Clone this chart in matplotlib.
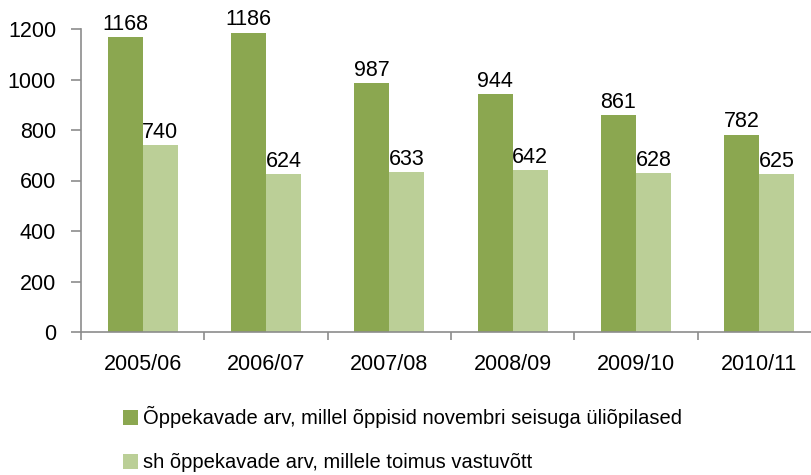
import matplotlib.pyplot as plt
import numpy as np

plt.rcParams['font.family'] = ['Liberation Sans', 'DejaVu Sans']

categories = ['2005/06', '2006/07', '2007/08', '2008/09', '2009/10', '2010/11']
series1 = [1168, 1186, 987, 944, 861, 782]
series2 = [740, 624, 633, 642, 628, 625]
labels = ['Õppekavade arv, millel õppisid novembri seisuga üliõpilased',
          'sh õppekavade arv, millele toimus vastuvõtt']
c1 = '#8BA750'
c2 = '#BBCF97'
axis_c = '#8C8C8C'

fig = plt.figure(figsize=(8.11, 4.75), dpi=100)
ax = fig.add_axes([81/811, 143/475, 740/811, 303/475])

x = np.arange(len(categories))
w = 0.285
b1 = ax.bar(x - w/2, series1, w, color=c1, label=labels[0])
b2 = ax.bar(x + w/2, series2, w, color=c2, label=labels[1])
for bars, vals in ((b1, series1), (b2, series2)):
    for r, v in zip(bars, vals):
        ax.annotate(str(v), (r.get_x() + r.get_width()/2, v), xytext=(0, 1.5),
                    textcoords='offset points', ha='center', va='bottom',
                    fontsize=15.5, annotation_clip=False)

ax.set_xlim(-0.5, len(categories) - 0.5)
ax.set_ylim(0, 1200)
ax.set_yticks(range(0, 1201, 200))
ax.set_xticks(x)
ax.set_xticklabels(categories, fontsize=15.5)
ax.set_xticks(np.arange(-0.5, len(categories) - 0.4, 1), minor=True)
ax.tick_params(axis='x', which='major', length=0, pad=16)
ax.tick_params(axis='x', which='minor', length=6, color=axis_c, width=1.2)
ax.tick_params(axis='y', length=7, color=axis_c, width=1.2, labelsize=15.5, pad=11)
for s in ('top', 'right'):
    ax.spines[s].set_visible(False)
for s in ('left', 'bottom'):
    ax.spines[s].set_color(axis_c)
    ax.spines[s].set_linewidth(1.2)

fig.legend(handles=[b1, b2], labels=labels, loc='upper left',
           bbox_to_anchor=(105/811, 1 - 388/475), frameon=False,
           fontsize=14.5, handlelength=0.75, handleheight=0.75,
           handletextpad=0.25, labelspacing=1.25)

fig.savefig('out.png', dpi=100)
